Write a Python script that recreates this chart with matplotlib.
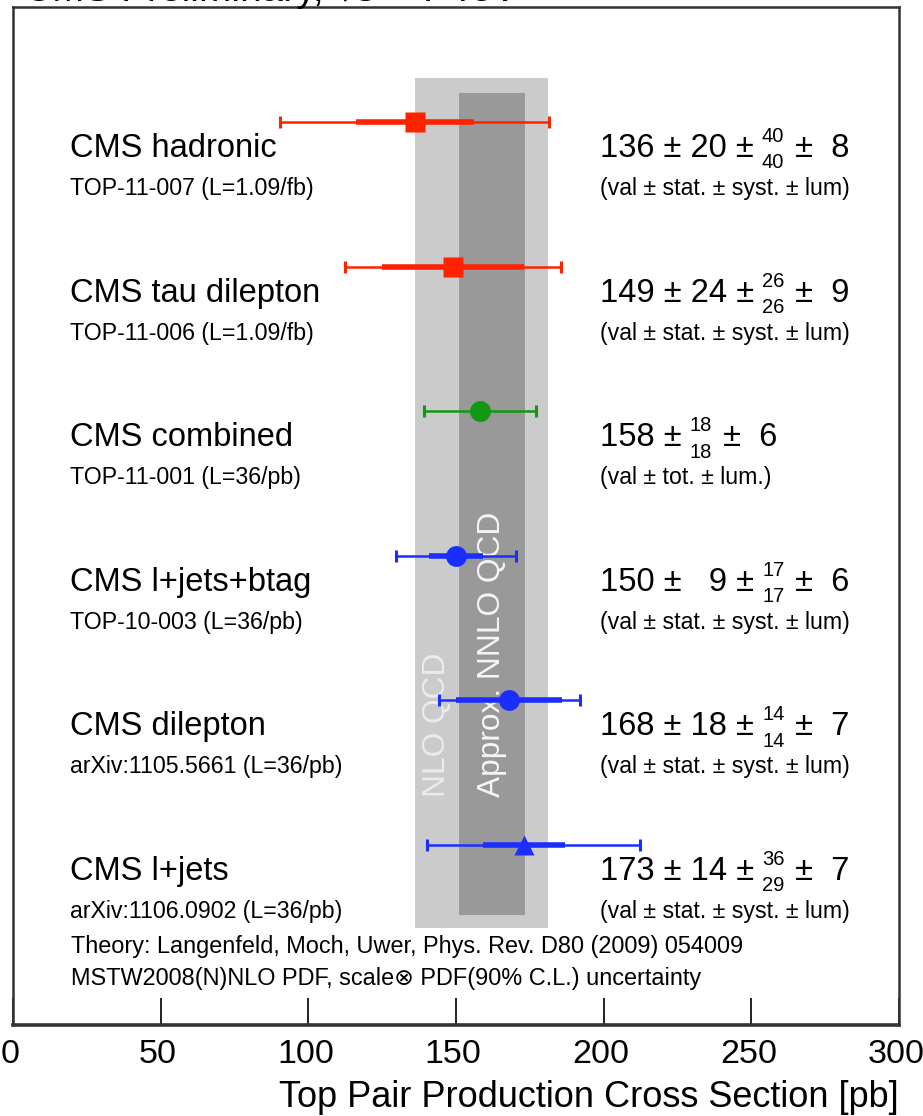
import matplotlib
matplotlib.use("Agg")
import matplotlib.pyplot as plt
from matplotlib.transforms import ScaledTranslation

plt.rcParams['font.family'] = ['Liberation Sans', 'DejaVu Sans']

# measurements, top to bottom
names = ["CMS hadronic", "CMS tau dilepton", "CMS combined",
         "CMS l+jets+btag", "CMS dilepton", "CMS l+jets"]
refs = ["TOP-11-007 (L=1.09/fb)", "TOP-11-006 (L=1.09/fb)", "TOP-11-001 (L=36/pb)",
        "TOP-10-003 (L=36/pb)", "arXiv:1105.5661 (L=36/pb)", "arXiv:1106.0902 (L=36/pb)"]
vals = [136, 149, 158, 150, 168, 173]
stat = [20, 24, None, 9, 18, 14]
syst_up = [40, 26, 18, 17, 14, 36]
syst_dn = [40, 26, 18, 17, 14, 29]
lumi = [8, 9, 6, 6, 7, 7]
legend_txt = ["(val ± stat. ± syst. ± lum)", "(val ± stat. ± syst. ± lum)",
              "(val ± tot. ± lum.)", "(val ± stat. ± syst. ± lum)",
              "(val ± stat. ± syst. ± lum)", "(val ± stat. ± syst. ± lum)"]
colors = ["#ff2200", "#ff2200", "#119911", "#1a2eff", "#1a2eff", "#1a2eff"]
markers = ["s", "s", "o", "o", "o", "^"]

nlo_band = (136.0, 181.0)
nnlo_band = (151.0, 173.5)

xticks = [0, 50, 100, 150, 200, 250, 300]

fig = plt.figure(figsize=(9.23, 11.16), dpi=100)
ax = fig.add_axes([13/923, 91/1116, 886/923, 1018/1116])
ax.set_xlim(0, 300)
ax.set_ylim(-0.245, 6.795)

# theory bands
ax.fill_betweenx([0.426, 6.304], nlo_band[0], nlo_band[1], color="#cbcbcb", lw=0, zorder=1)
ax.fill_betweenx([0.516, 6.2], nnlo_band[0], nnlo_band[1], color="#999999", lw=0, zorder=2)
ax.text((nlo_band[0] + nnlo_band[0]) / 2, 1.332, "NLO QCD", rotation=90, ha="center",
        va="bottom", color="#ececec", fontsize=22.8, zorder=3)
ax.text((nnlo_band[0] + nnlo_band[1]) / 2, 1.332, "Approx. NNLO QCD", rotation=90,
        ha="center", va="bottom", color="#f6f6f6", fontsize=22.8, zorder=3)

rows = [6 - i for i in range(len(vals))]
for i, y in enumerate(rows):
    v, c = vals[i], colors[i]
    st = stat[i] if stat[i] is not None else 0
    up = (st**2 + syst_up[i]**2 + lumi[i]**2) ** 0.5
    dn = (st**2 + syst_dn[i]**2 + lumi[i]**2) ** 0.5
    ax.errorbar([v], [y], xerr=[[dn], [up]], fmt="none", ecolor=c, elinewidth=1.8,
                capsize=4, capthick=2.2, zorder=4)
    if stat[i] is not None:
        ax.plot([v - st, v + st], [y, y], color=c, lw=4, solid_capstyle="butt", zorder=5)
    ms = 14 if markers[i] == "s" else 15
    ax.plot([v], [y], marker=markers[i], color=c, ms=ms, mec="none", zorder=6)

    # left labels
    ax.text(19.2, y - 0.242, names[i], fontsize=23.5, va="baseline", ha="left")
    ax.text(19.2, y - 0.505, refs[i], fontsize=16.7, va="baseline", ha="left")

    # right value text
    yb = y - 0.242
    if stat[i] is not None:
        s = str(stat[i]) if stat[i] >= 10 else "\u2007" + str(stat[i])
        main = f"{v} ± {s} ±"
    else:
        main = f"{v} ±"
    t1 = ax.text(198.7, yb, main, fontsize=23.5, va="baseline", ha="left")
    sup = ax.annotate(str(syst_up[i]), xy=(1, yb), xycoords=(t1, "data"),
                      xytext=(6, 10.8), textcoords="offset points",
                      fontsize=14.5, va="baseline", ha="left")
    ax.annotate(str(syst_dn[i]), xy=(1, yb), xycoords=(t1, "data"),
                xytext=(6, -8.2), textcoords="offset points",
                fontsize=14.5, va="baseline", ha="left")
    ax.annotate(f" ±  {lumi[i]}", xy=(1, yb), xycoords=(sup, "data"),
                xytext=(1, 0), textcoords="offset points",
                fontsize=23.5, va="baseline", ha="left")
    ax.text(198.7, y - 0.505, legend_txt[i], fontsize=16.7, va="baseline", ha="left")

ax.text(19.8, 0.25, "Theory: Langenfeld, Moch, Uwer, Phys. Rev. D80 (2009) 054009",
        fontsize=16.9, va="baseline", ha="left")
ax.text(19.8, 0.03, "MSTW2008(N)NLO PDF, scale⊗ PDF(90% C.L.) uncertainty",
        fontsize=16.9, va="baseline", ha="left")

ax.set_xticks(xticks)
ax.set_yticks([])
ax.tick_params(axis="x", direction="in", length=19.5, width=1.4, pad=10,
               labelsize=24.5, color="#222222")
shift = ScaledTranslation(-3/100, 0, fig.dpi_scale_trans)
for lab in ax.get_xticklabels():
    lab.set_transform(lab.get_transform() + shift)
ax.set_xlabel("Top Pair Production Cross Section [pb]", fontsize=26, loc="right",
              labelpad=7)
for sp in ax.spines.values():
    sp.set_color("#333333")
    sp.set_linewidth(1.8)
ax.spines["bottom"].set_linewidth(2.6)

fig.text(24/923, 1 - 1/1116, "CMS Preliminary, √s = 7 TeV", fontsize=28,
         va="baseline", ha="left")

fig.savefig("out.png", dpi=100)
